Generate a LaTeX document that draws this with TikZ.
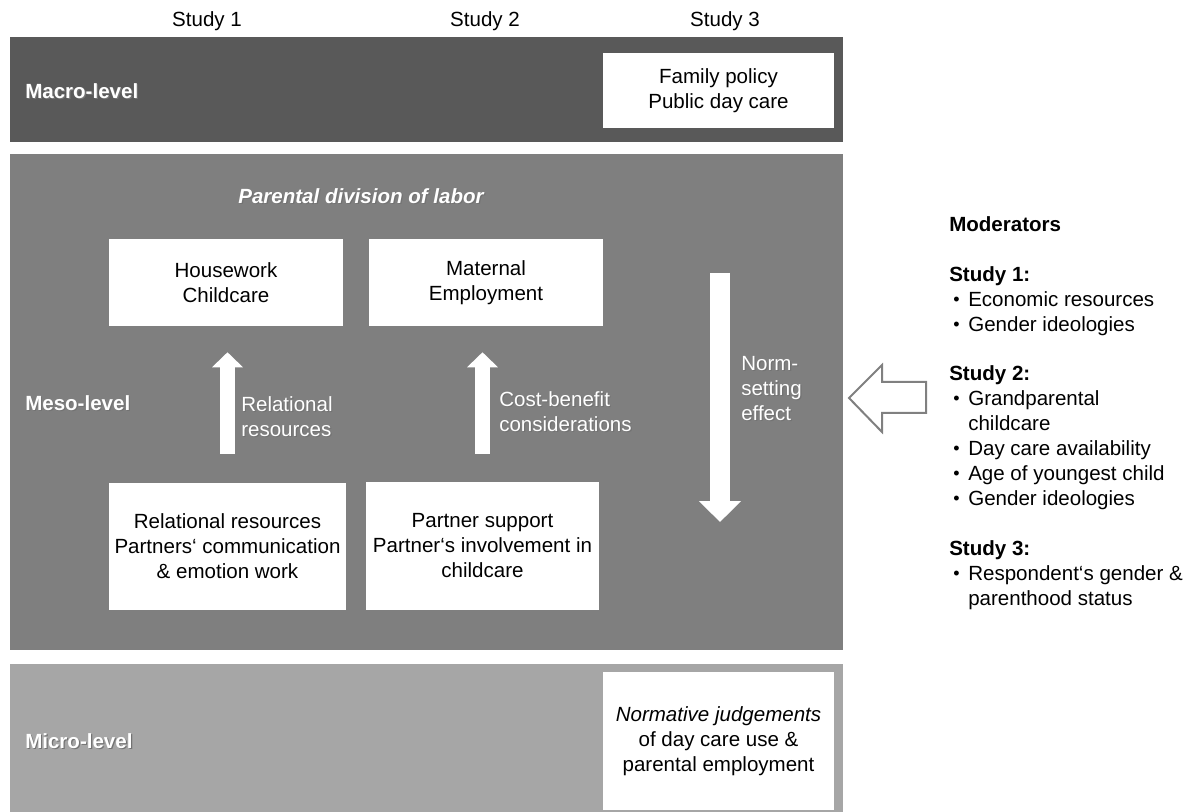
\documentclass[tikz,border=0pt]{standalone}
\usepackage{fontspec}
\setmainfont{Liberation Sans}
\usetikzlibrary{arrows.meta}

\definecolor{macrogray}{HTML}{595959}
\definecolor{mesogray}{HTML}{7F7F7F}
\definecolor{microgray}{HTML}{A6A6A6}
\definecolor{outlinegray}{HTML}{808080}

\newcommand{\shd}[1]{\makebox[0pt][l]{\kern0.9pt\raisebox{-0.9pt}{\textcolor{black!55}{#1}}}#1}
\newcommand{\itm}[1]{\makebox[14.25pt][l]{\hspace*{3pt}\raisebox{0.8pt}{\fontsize{13.5pt}{13.5pt}\selectfont\textbullet}}#1}

\begin{document}
\begin{tikzpicture}[x=0.75pt, y=-0.75pt, inner sep=0pt,
		font=\fontsize{15.4pt}{18.75pt}\selectfont,
		whitebox/.style={fill=white, align=center},
		levellabel/.style={anchor=west, text=white, font=\fontsize{15.4pt}{18.75pt}\selectfont\bfseries},
		lab/.style={anchor=west, text=white, align=left},
		modlist/.style={anchor=north west, align=left},
		flowup/.style={draw=white, line width=11.25pt, -{Triangle[width=22.5pt,length=11.25pt]}},
		flowdown/.style={draw=white, line width=15pt, -{Triangle[width=30.75pt,length=15.75pt]}}]
		
		\useasboundingbox (0,0) rectangle (1195,812);
		
		% Bands
		\fill[macrogray] (10,37) rectangle (843,142);
		\fill[mesogray] (10,154) rectangle (843,650);
		\fill[microgray] (10,664) rectangle (843,812);
		
		% Study headings
		\node[anchor=base] (study1) at (207,27) {Study 1};
		\node[anchor=base] (study2) at (485,27) {Study 2};
		\node[anchor=base] (study3) at (725,27) {Study 3};
		
		% Level labels
		\node[levellabel] (macro) at (25,92) {\shd{Macro-level}};
		\node[levellabel] (meso) at (25,404) {\shd{Meso-level}};
		\node[levellabel] (micro) at (25,742) {\shd{Micro-level}};
		
		% Macro-level (Study 3)
		\node[whitebox, minimum width=173.25pt, minimum height=56.25pt] (policy) at (718.5,90.5) {Family policy\\Public day care};
		
		% Meso-level
		\node[text=white, font=\fontsize{15.4pt}{18.75pt}\selectfont\bfseries\itshape] (division) at (361,197) {\shd{Parental division of labor}};
		\node[whitebox, minimum width=175.5pt, minimum height=65.25pt] (housework) at (226,282.5) {Housework\\Childcare};
		\node[whitebox, minimum width=175.5pt, minimum height=65.25pt] (employment) at (486,282.5) {Maternal\\Employment};
		\node[whitebox, minimum width=177.75pt, minimum height=95.25pt] (relres) at (227.5,546.5) {Relational resources\\Partners‘ communication\\\& emotion work};
		\node[whitebox, minimum width=174.75pt, minimum height=96pt] (support) at (482.5,546) {Partner support\\Partner‘s involvement in\\childcare};
		
		% Arrows between the boxes
		\draw[flowup, shorten <=21.75pt, shorten >=19.5pt] (relres.north) -- (relres.north |- housework.south);
		\draw[flowup, shorten <=21pt, shorten >=19.5pt] (support.north) -- (support.north |- employment.south);
		\node[lab] (rellab) at (241,417.5) {\shd{Relational}\\\shd{resources}};
		\node[lab] (costlab) at (499,412.5) {\shd{Cost-benefit}\\\shd{considerations}};
		
		% Norm-setting effect
		\coordinate (normtop) at (720,273);
		\coordinate (normtip) at (720,522);
		\draw[flowdown] (normtop) -- (normtip);
		\node[lab] (normlab) at (741,389) {\shd{Norm-}\\\shd{setting}\\\shd{effect}};
		
		% Micro-level (Study 3)
		\node[whitebox, minimum width=173.25pt, minimum height=103.5pt] (judgement) at (718.5,741) {\textit{Normative judgements}\\of day care use \&\\parental employment};
		
		% Moderators
		\draw[outlinegray, line width=1.5pt, fill=white] (849,398) -- (882,365) -- (882,382) -- (926,382) -- (926,413) -- (882,413) -- (882,432) -- cycle;
		\node[anchor=west, font=\fontsize{15.4pt}{18.75pt}\selectfont\bfseries] (modtitle) at (949,224) {Moderators};
		\node[modlist] (mods1) at (949,266) {\textbf{Study 1:}\\\itm{Economic resources}\\\itm{Gender ideologies}};
		\node[modlist] (mods2) at (949,365) {\textbf{Study 2:}\\\itm{Grandparental}\\\hspace*{14.25pt}childcare\\\itm{Day care availability}\\\itm{Age of youngest child}\\\itm{Gender ideologies}};
		\node[modlist] (mods3) at (949,540) {\textbf{Study 3:}\\\itm{Respondent‘s gender \&}\\\hspace*{14.25pt}parenthood status};
	\end{tikzpicture}
\end{document}
